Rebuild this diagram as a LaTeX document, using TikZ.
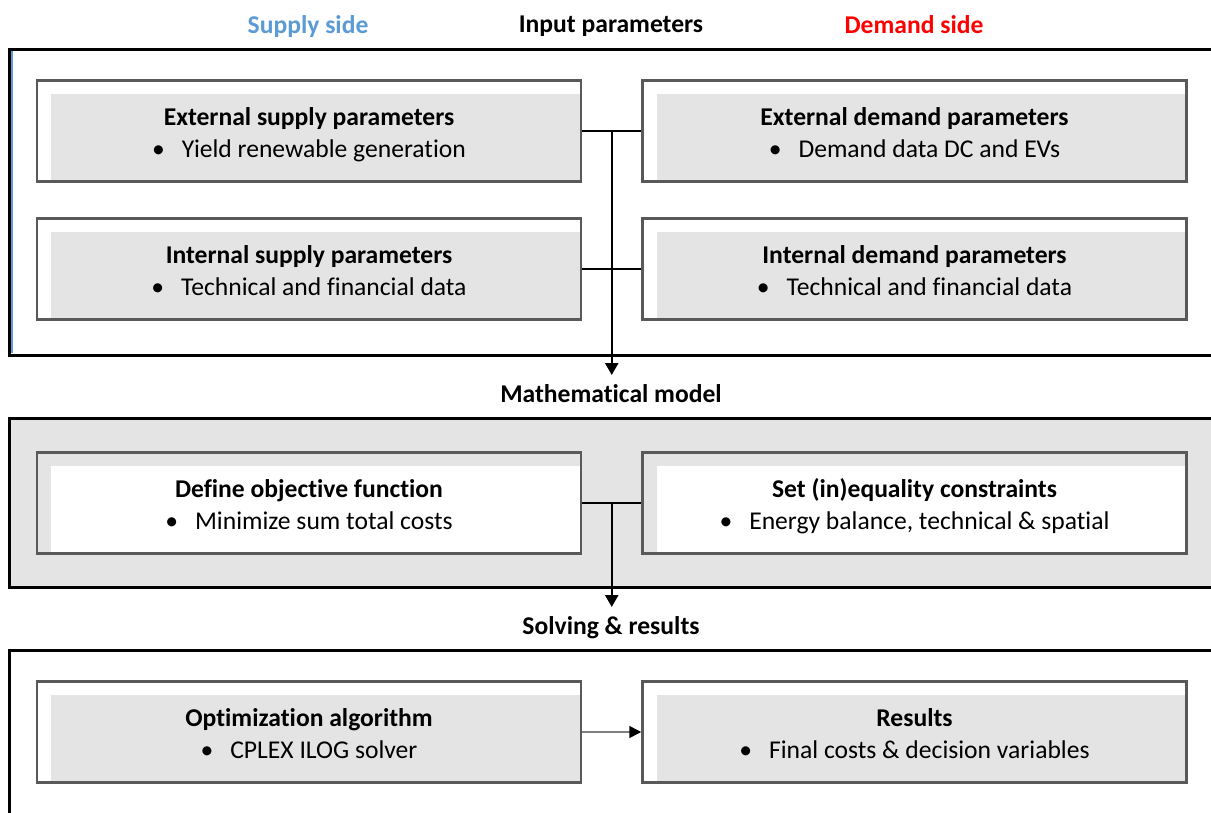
\documentclass[tikz,border=0pt]{standalone}
\usepackage{fontspec}
\setmainfont{Carlito}[RawFeature=-liga]
\usetikzlibrary{arrows.meta,calc}
\definecolor{boxborder}{HTML}{595959}
\definecolor{shadegray}{HTML}{E4E4E4}
\definecolor{supplyblue}{HTML}{5B9BD5}
\definecolor{demandred}{HTML}{FF0000}
\definecolor{thinarrow}{HTML}{7F7F7F}
\tikzset{
  panel/.style={draw=black, line width=3pt},
  heading/.style={font=\fontsize{25.6}{30}\selectfont\bfseries, inner sep=0pt, anchor=base},
  boxtext/.style={inner sep=0pt, align=center, font=\fontsize{25.6}{32}\selectfont, yshift=-3pt},
  basebox/.style={draw=boxborder, line width=2.5pt, minimum width=544pt, minimum height=101pt,
    inner sep=0pt},
  lightbox/.style={basebox, fill=white,
    path picture={\fill[shadegray] ([xshift=14pt,yshift=-13pt]path picture bounding box.north west) rectangle (path picture bounding box.south east);}},
  darkbox/.style={basebox, fill=shadegray,
    path picture={\fill[white] ([xshift=14pt,yshift=-13pt]path picture bounding box.north west) rectangle (path picture bounding box.south east);}},
  conn/.style={draw=black, line width=2.5pt},
  bigtip/.style={-{Triangle[length=12pt,width=13pt]}},
}
\newcommand{\bx}[2]{\textbf{#1}\vphantom{(Ayg)}\\\textbullet\hspace{17pt}#2\vphantom{(Ayg)}}
\begin{document}
\begin{tikzpicture}[x=1pt,y=-1pt]
\useasboundingbox (0,0) rectangle (1211,812);
\clip (0,0) rectangle (1211,812);
% headings
\node[heading, text=supplyblue] (hsup) at (308,33) {Supply side};
\node[heading] (hin) at (611,32) {Input parameters};
\node[heading, text=demandred] (hdem) at (914,33) {Demand side};
\node[heading] (hmath) at (611,402) {Mathematical model};
\node[heading] (hsolve) at (611,634) {Solving \& results};
% panels
\draw[panel] (9,49) rectangle (1220,355);
\draw[supplyblue, line width=2pt] (11.5,51) -- (11.5,353);
\draw[panel, fill=shadegray] (9,418) rectangle (1220,587);
\draw[panel] (9,650) rectangle (1220,830);
% boxes
\node[lightbox] (esp) at (309,131) {};
\node[lightbox] (edp) at (914.5,131) {};
\node[lightbox] (isp) at (309,269) {};
\node[lightbox] (idp) at (914.5,269) {};
\node[darkbox] (obj) at (309,503) {};
\node[darkbox] (con) at (914.5,503) {};
\node[lightbox] (alg) at (309,732) {};
\node[lightbox] (res) at (914.5,732) {};
% box texts
\node[boxtext] (esp-t) at (esp.center) {\bx{External supply parameters}{Yield renewable generation}};
\node[boxtext] (edp-t) at (edp.center) {\bx{External demand parameters}{Demand data DC and EVs}};
\node[boxtext] (isp-t) at (isp.center) {\bx{Internal supply parameters}{Technical and financial data}};
\node[boxtext] (idp-t) at (idp.center) {\bx{Internal demand parameters}{Technical and financial data}};
\node[boxtext] (obj-t) at (obj.center) {\bx{Define objective function}{Minimize sum total costs}};
\node[boxtext] (con-t) at (con.center) {\bx{Set (in)equality constraints}{Energy balance, technical \& spatial}};
\node[boxtext] (alg-t) at (alg.center) {\bx{Optimization algorithm}{CPLEX ILOG solver}};
\node[boxtext] (res-t) at (res.center) {\bx{Results}{Final costs \& decision variables}};
% connectors
\coordinate (j1) at ($(esp.east)!0.5!(edp.west)$);
\coordinate (j3) at ($(obj.east)!0.5!(con.west)$);
\coordinate (tip1) at (j1 |- 0,375);
\coordinate (tip2) at (j3 |- 0,607);
\draw[conn] (esp.east) -- (edp.west);
\draw[conn] (isp.east) -- (idp.west);
\draw[conn, bigtip] (j1) -- (tip1);
\draw[conn] (obj.east) -- (con.west);
\draw[conn, bigtip] (j3) -- (tip2);
\draw[thinarrow, line width=1.5pt, -{Triangle[length=12pt,width=12pt,color=black]}] (alg.east) -- (res.west);
\end{tikzpicture}
\end{document}
